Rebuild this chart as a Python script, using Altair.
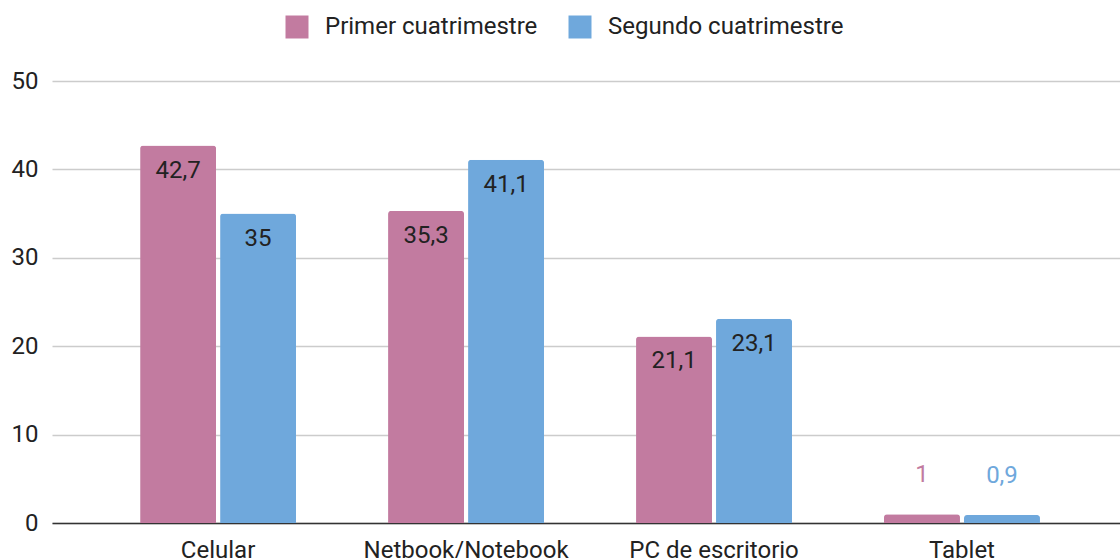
import altair as alt
import pandas as pd

# Device usage by term (percent)
categories = ["Celular", "Netbook/Notebook", "PC de escritorio", "Tablet"]
series = ["Primer cuatrimestre", "Segundo cuatrimestre"]
primer = [42.7, 35.3, 21.1, 1.0]
segundo = [35.0, 41.1, 23.1, 0.9]
colors = ["#C27BA0", "#6FA8DC"]
y_ticks = [0, 10, 20, 30, 40, 50]


def fmt(v):
    s = f"{v:g}"
    return s.replace(".", ",")


rows = []
for cat, a, b in zip(categories, primer, segundo):
    rows.append({"categoria": cat, "serie": series[0], "valor": a, "etiqueta": fmt(a)})
    rows.append({"categoria": cat, "serie": series[1], "valor": b, "etiqueta": fmt(b)})
df = pd.DataFrame(rows)

FONT = "Roboto"
FS = 24
TEXT = "#222222"

x_enc = alt.X(
    "categoria:N",
    sort=categories,
    title=None,
    scale=alt.Scale(paddingInner=0.371, paddingOuter=0.339, align=0.524),
    axis=alt.Axis(
        labelAngle=0,
        labelFontSize=FS,
        labelColor=TEXT,
        labelPadding=15,
        ticks=False,
        grid=False,
        domainColor="#333333",
        domainWidth=1.5,
        labelFont=FONT,
        labelLimit=0,
    ),
)
xoff = alt.XOffset("serie:N", sort=series, scale=alt.Scale(paddingInner=0.05))
y_enc = alt.Y(
    "valor:Q",
    title=None,
    scale=alt.Scale(domain=[0, 50], nice=False),
    axis=alt.Axis(
        values=y_ticks,
        labelFontSize=FS,
        labelColor=TEXT,
        labelPadding=14,
        ticks=False,
        domain=False,
        gridColor="#cccccc",
        gridWidth=1.5,
        labelFont=FONT,
    ),
)
color_enc = alt.Color(
    "serie:N",
    sort=series,
    scale=alt.Scale(domain=series, range=colors),
    legend=alt.Legend(
        title=None,
        orient="none",
        direction="horizontal",
        legendX=233,
        legendY=-66,
        symbolType="square",
        symbolSize=529,
        symbolStrokeWidth=0,
        symbolOpacity=1,
        labelFontSize=FS,
        labelFont=FONT,
        labelColor=TEXT,
        labelLimit=0,
        labelOffset=16,
        columnPadding=30,
    ),
)

base = alt.Chart(df).encode(x=x_enc, xOffset=xoff, y=y_enc)

bars = base.mark_bar(cornerRadiusTopLeft=3, cornerRadiusTopRight=3).encode(color=color_enc)

inside = (
    base.transform_filter("datum.valor > 5")
    .mark_text(baseline="middle", dy=25, fontSize=FS, font=FONT, color=TEXT)
    .encode(text="etiqueta:N")
)

outside = (
    base.transform_filter("datum.valor <= 5")
    .mark_text(baseline="middle", dy=-39, fontSize=FS, font=FONT)
    .encode(
        text="etiqueta:N",
        color=alt.Color("serie:N", scale=alt.Scale(domain=series, range=colors), legend=None),
    )
)

chart = (
    alt.layer(bars, inside, outside)
    .properties(
        width=1068,
        height=442,
        background="white",
        autosize=alt.AutoSizeParams(type="none"),
        padding={"left": 52, "top": 81, "right": 0, "bottom": 35},
    )
    .configure_view(stroke="transparent", strokeWidth=0)
)

chart.save("out.html", embed_options={"renderer": "svg", "actions": False})
